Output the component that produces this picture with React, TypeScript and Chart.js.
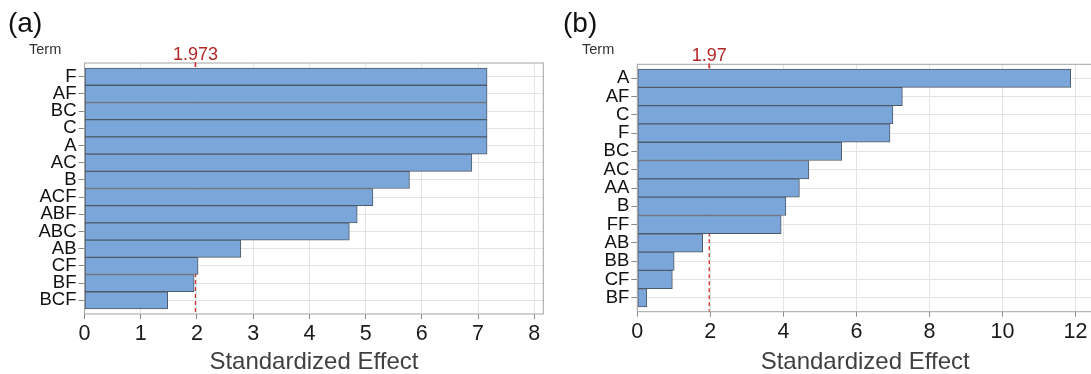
import React, { useEffect, useRef } from "react";
import { Chart, registerables } from "chart.js";

Chart.register(...registerables);

const FONT = "'Liberation Sans', Arial, Helvetica, sans-serif";

// Panel (a)
const termsA = ["F", "AF", "BC", "C", "A", "AC", "B", "ACF", "ABF", "ABC", "AB", "CF", "BF", "BCF"];
const effectsA = [7.16, 7.16, 7.16, 7.16, 7.16, 6.89, 5.78, 5.13, 4.85, 4.71, 2.78, 2.02, 1.95, 1.48];
const refA = 1.973;
const refLabelA = "1.973";

// Panel (b)
const termsB = ["A", "AF", "C", "F", "BC", "AC", "AA", "B", "FF", "AB", "BB", "CF", "BF"];
const effectsB = [11.87, 7.26, 7.0, 6.92, 5.6, 4.7, 4.44, 4.07, 3.94, 1.79, 1.01, 0.96, 0.26];
const refB = 1.97;
const refLabelB = "1.97";

const BAR_FILL = "#7ba6d9";
const BAR_EDGE = "#4f5a68";
const GRID = "#e4e4e4";
const FRAME = "#a3a3a3";
const RED = "#b32626";

const panelPlugin = {
  id: "panelDecor",
  beforeDatasetsDraw(chart: any, _args: any, opts: any) {
    const { ctx, chartArea } = chart;
    const x = chart.scales.x.getPixelForValue(opts.ref);
    ctx.save();
    ctx.strokeStyle = "#d23030";
    ctx.lineWidth = 1.3;
    ctx.setLineDash([4, 3]);
    ctx.beginPath();
    ctx.moveTo(x, chartArea.top);
    ctx.lineTo(x, chartArea.bottom);
    ctx.stroke();
    ctx.restore();
  },
  afterDraw(chart: any, _args: any, opts: any) {
    const { ctx, chartArea } = chart;
    const x = chart.scales.x.getPixelForValue(opts.ref);
    ctx.save();
    ctx.strokeStyle = FRAME;
    ctx.lineWidth = 1;
    ctx.strokeRect(chartArea.left, chartArea.top, chartArea.right - chartArea.left, chartArea.bottom - chartArea.top);
    ctx.strokeStyle = "#d23030";
    ctx.lineWidth = 1.3;
    ctx.beginPath();
    ctx.moveTo(x, chartArea.top - 1);
    ctx.lineTo(x, chartArea.top + 4);
    ctx.stroke();
    ctx.fillStyle = RED;
    ctx.font = `18px ${FONT}`;
    ctx.textAlign = "center";
    ctx.textBaseline = "alphabetic";
    ctx.fillText(opts.refLabel, x, chartArea.top - 3.5);
    ctx.fillStyle = "#111";
    ctx.textAlign = "left";
    ctx.font = `28px ${FONT}`;
    ctx.fillText(opts.letter, opts.letterX, 32);
    ctx.fillStyle = "#333";
    ctx.font = `14.5px ${FONT}`;
    ctx.fillText("Term", opts.termX, 54);
    ctx.restore();
  },
};

function makeConfig(p: {
  terms: string[];
  effects: number[];
  ref: number;
  refLabel: string;
  letter: string;
  letterX: number;
  termX: number;
  xMax: number;
  xStep: number;
  yPad: number;
  top: number;
  right: number;
  yWidth: number;
  xHeight: number;
}) {
  const n = p.terms.length;
  return {
    type: "bar" as const,
    data: {
      datasets: [
        {
          data: p.effects.map((v, i) => ({ x: v, y: i })),
          backgroundColor: BAR_FILL,
          borderColor: BAR_EDGE,
          borderWidth: 1,
          borderSkipped: false,
          barPercentage: 1,
          categoryPercentage: 1,
        },
      ],
    },
    options: {
      indexAxis: "y" as const,
      animation: false as const,
      responsive: false,
      devicePixelRatio: 1,
      layout: { padding: { top: p.top, left: 0, right: p.right, bottom: 0 } },
      plugins: {
        legend: { display: false },
        tooltip: { enabled: false },
        panelDecor: { ref: p.ref, refLabel: p.refLabel, letter: p.letter, letterX: p.letterX, termX: p.termX },
      },
      scales: {
        y: {
          type: "linear" as const,
          reverse: true,
          offset: false,
          min: -0.5 - p.yPad,
          max: n - 0.5 + p.yPad,
          afterFit: (s: any) => {
            s.width = p.yWidth;
          },
          ticks: {
            stepSize: 1,
            includeBounds: false,
            autoSkip: false,
            padding: 2,
            color: "#111",
            font: { size: 18.5, family: FONT },
            callback: (v: any) => (Number.isInteger(v) && p.terms[v] !== undefined ? p.terms[v] : ""),
          },
          grid: { color: GRID, tickColor: "#8a8a8a", tickLength: 6, offset: false },
          border: { display: false },
        },
        x: {
          type: "linear" as const,
          min: 0,
          max: p.xMax,
          offset: false,
          afterFit: (s: any) => {
            s.height = p.xHeight;
          },
          ticks: {
            stepSize: p.xStep,
            includeBounds: false,
            padding: 2,
            color: "#1a1a1a",
            font: { size: 21.5, family: FONT },
          },
          grid: { color: GRID, tickColor: "#8a8a8a", tickLength: 5 },
          border: { display: false },
          title: {
            display: true,
            text: "Standardized Effect",
            color: "#404040",
            font: { size: 24, family: FONT, lineHeight: 1.0 },
            padding: 0,
          },
        },
      },
    },
    plugins: [panelPlugin],
  };
}

function Panel(props: { cfg: any; left: number; width: number }) {
  const ref = useRef<HTMLCanvasElement | null>(null);
  useEffect(() => {
    if (!ref.current) return;
    const chart = new Chart(ref.current, props.cfg);
    return () => chart.destroy();
  }, []);
  return (
    <canvas
      ref={ref}
      width={props.width}
      height={374}
      style={{ position: "absolute", left: props.left, top: 0, width: props.width, height: 374 }}
    />
  );
}

export default function App() {
  Chart.defaults.font.family = FONT;
  const cfgA = makeConfig({
    terms: termsA,
    effects: effectsA,
    ref: refA,
    refLabel: refLabelA,
    letter: "(a)",
    letterX: 8,
    termX: 29,
    xMax: 8.16,
    xStep: 1,
    yPad: 0.295,
    top: 63,
    right: 16.7,
    yWidth: 84.5,
    xHeight: 60,
  });
  const cfgB = makeConfig({
    terms: termsB,
    effects: effectsB,
    ref: refB,
    refLabel: refLabelB,
    letter: "(b)",
    letterX: 13,
    termX: 32,
    xMax: 12.48,
    xStep: 2,
    yPad: 0.257,
    top: 64.3,
    right: 17,
    yWidth: 87.3,
    xHeight: 62.3,
  });
  return (
    <div
      style={{
        position: "fixed",
        left: 0,
        top: 0,
        width: 1091,
        height: 374,
        overflow: "hidden",
        background: "#fff",
      }}
    >
      <Panel cfg={cfgA} left={0} width={560} />
      <Panel cfg={cfgB} left={550} width={560} />
    </div>
  );
}
